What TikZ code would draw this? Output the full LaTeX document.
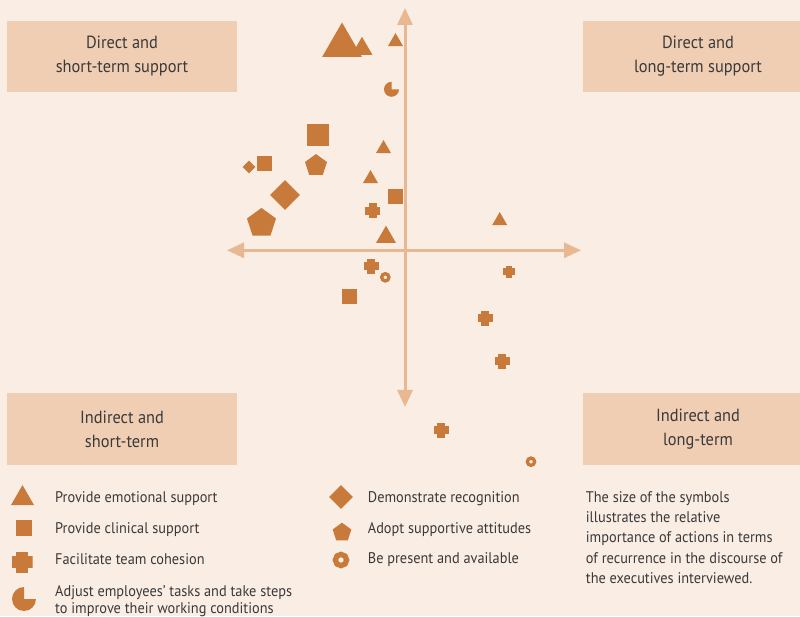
\documentclass[tikz,border=0pt]{standalone}
\usepackage{fontspec}
\setmainfont{PT Sans}[FakeStretch=0.93]
\usetikzlibrary{shapes.geometric,arrows.meta,calc}
\definecolor{paper}{HTML}{FAEDE4}
\definecolor{boxfill}{HTML}{F0CEB4}
\definecolor{ochre}{HTML}{C87A3A}
\definecolor{axisline}{HTML}{E8B892}
\definecolor{ink}{HTML}{3A3A3A}
\tikzstyle{quadrant}=[rectangle,fill=boxfill,minimum width=230pt,minimum height=71pt,align=center,text=ink,font=\fontsize{17.6}{24}\selectfont,execute at begin node={\rule{0pt}{17.7pt}}]
\tikzstyle{axisarrow}=[line width=3pt,draw=axisline,{Triangle[width=15pt,length=17pt]}-{Triangle[width=15pt,length=17pt]}]
\tikzstyle{emotional}=[regular polygon,regular polygon sides=3,fill=ochre,inner sep=0pt]
\tikzstyle{clinical}=[rectangle,fill=ochre,inner sep=0pt]
\tikzstyle{recognition}=[diamond,fill=ochre,inner sep=0pt]
\tikzstyle{attitude}=[regular polygon,regular polygon sides=5,fill=ochre,inner sep=0pt]
\tikzstyle{presence}=[circle,draw=ochre,inner sep=0pt]
\tikzstyle{cohesion}=[rectangle,inner sep=0pt,path picture={
  \fill[ochre] ($(path picture bounding box.south west)!.23!(path picture bounding box.south east)$) rectangle ($(path picture bounding box.north west)!.77!(path picture bounding box.north east)$);
  \fill[ochre] ($(path picture bounding box.south west)!.23!(path picture bounding box.north west)$) rectangle ($(path picture bounding box.south east)!.77!(path picture bounding box.north east)$);
}]
\tikzstyle{adjust}=[circle,inner sep=0pt,path picture={
  \fill[ochre] (path picture bounding box.center) -- (path picture bounding box.north) -- (path picture bounding box.north west) -- (path picture bounding box.south west) -- (path picture bounding box.south east) -- (path picture bounding box.east) -- cycle;
}]
\tikzstyle{legtext}=[anchor=west,inner sep=0pt,text=ink,font=\fontsize{15.4}{17.5}\selectfont]
\tikzstyle{notetext}=[anchor=north west,inner sep=0pt,align=left,text=ink,font=\fontsize{15.4}{20.3}\selectfont]

\begin{document}
\begin{tikzpicture}[x=1pt,y=1pt]
\path[use as bounding box,fill=paper] (0,0) rectangle (800,616);
\clip (0,0) rectangle (800,616);

\node[quadrant] (dirshort) at (122,559.5) {Direct and\\short-term support};
\node[quadrant] (dirlong) at (698,559.5) {Direct and\\long-term support};
\node[quadrant] (indshort) at (122,187) {Indirect and\\short-term};
\node[quadrant] (indlong) at (698,187) {Indirect and\\long-term};

\coordinate (top) at (405,608);
\coordinate (bottom) at (405,209);
\coordinate (left) at (227,365.7);
\coordinate (right) at (581,365.7);
\draw[axisarrow] (bottom) -- (top);
\draw[axisarrow] (left) -- (right);

\node[emotional,minimum size=46pt] (e1) at (342,570.5) {};
\node[emotional,minimum size=24.2pt] (e2) at (362,567.1) {};
\node[emotional,minimum size=17.3pt] (e3) at (395.5,574.3) {};
\node[emotional,minimum size=17.3pt] (e4) at (383.5,467.3) {};
\node[emotional,minimum size=17.3pt] (e5) at (370.5,437.3) {};
\node[emotional,minimum size=23.1pt] (e6) at (386,378.8) {};
\node[emotional,minimum size=17.3pt] (e7) at (499.7,395.3) {};

\node[clinical,minimum size=22pt] (c1) at (318,481) {};
\node[clinical,minimum size=15pt] (c2) at (264.5,452.5) {};
\node[clinical,minimum size=15pt] (c3) at (395.5,419.5) {};
\node[clinical,minimum size=15pt] (c4) at (349.5,319.5) {};

\node[recognition,minimum size=13pt] (r1) at (249,449) {};
\node[recognition,minimum size=30pt] (r2) at (285,421) {};

\node[attitude,minimum size=23.1pt] (a1) at (316,450.4) {};
\node[attitude,minimum size=30.5pt] (a2) at (261.5,392.8) {};

\node[cohesion,minimum size=15pt] (h1) at (372.7,405) {};
\node[cohesion,minimum size=15pt] (h2) at (371.3,349.7) {};
\node[cohesion,minimum size=12pt] (h3) at (509,344.3) {};
\node[cohesion,minimum size=15pt] (h4) at (485.3,297.7) {};
\node[cohesion,minimum size=15pt] (h5) at (502.3,254.7) {};
\node[cohesion,minimum size=15pt] (h6) at (441.3,185.7) {};

\node[presence,line width=3.3pt,minimum size=7.3pt] (p1) at (385.3,338.7) {};
\node[presence,line width=3.3pt,minimum size=7.3pt] (p2) at (531,154.3) {};

\node[adjust,minimum size=15pt] (j1) at (391.5,526.7) {};

\node[emotional,minimum size=26.6pt] (le) at (22.5,117.6) {};
\node[clinical,minimum size=16pt] (lc) at (23.5,88) {};
\node[cohesion,minimum size=21pt] (lh) at (22,54) {};
\node[adjust,minimum size=24pt] (lj) at (24,17) {};
\node[recognition,minimum size=24pt] (lr) at (341,119) {};
\node[attitude,minimum size=19.6pt] (la) at (342,83.5) {};
\node[presence,line width=5.3pt,minimum size=11.3pt] (lp) at (341,56) {};

\node[legtext] (te) at (55,117.5) {Provide emotional support};
\node[legtext] (tc) at (55,86.5) {Provide clinical support};
\node[legtext] (th) at (55,57) {Facilitate team cohesion};
\node[notetext,font=\fontsize{15.4}{17.5}\selectfont] (tj) at (55,31) {Adjust employees' tasks and take steps\\to improve their working conditions};
\node[legtext] (tr) at (367.7,117.5) {Demonstrate recognition};
\node[legtext] (ta) at (367.7,86.5) {Adopt supportive attitudes};
\node[legtext] (tp) at (367.7,56.5) {Be present and available};
\node[notetext] (note) at (585.7,125) {The size of the symbols\\illustrates the relative\\importance of actions in terms\\of recurrence in the discourse of\\the executives interviewed.};
\end{tikzpicture}
\end{document}
